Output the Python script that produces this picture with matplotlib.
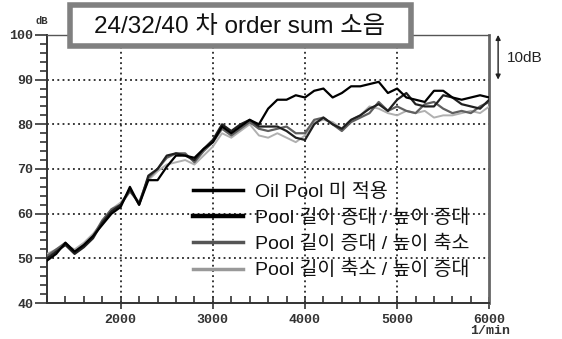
import numpy as np
import matplotlib.pyplot as plt
from matplotlib.patches import Rectangle
from matplotlib.lines import Line2D
from matplotlib.ticker import MultipleLocator, FixedLocator

plt.rcParams['font.family'] = ['Liberation Sans', 'Noto Sans CJK KR', 'DejaVu Sans']

# rpm axis, 100 rpm steps
rpm = np.arange(1200, 6001, 100)

# Oil Pool 미 적용
s_none = [49.5, 51.0, 53.5, 51.5, 53.0, 55.0, 57.5, 60.0, 61.5, 66.0,
          62.0, 67.5, 67.5, 70.5, 73.0, 73.0, 72.5, 74.5, 76.0, 79.5,
          78.0, 79.5, 81.0, 80.0, 83.5, 85.5, 85.5, 86.5, 86.0, 87.5,
          88.0, 86.0, 87.0, 88.5, 88.5, 89.0, 89.5, 87.0, 88.0, 86.0,
          85.5, 85.0, 87.5, 87.5, 86.0, 85.5, 86.0, 86.5, 86.0]
# Pool 길이 증대 / 높이 증대
s_up_up = [50.0, 51.5, 53.0, 51.0, 52.5, 54.5, 58.0, 60.5, 62.0, 65.5,
           62.0, 68.5, 70.0, 73.0, 73.5, 73.0, 72.0, 74.5, 76.5, 80.0,
           78.5, 80.0, 81.0, 79.5, 79.5, 79.5, 78.5, 77.0, 76.5, 80.0,
           81.5, 80.0, 79.0, 81.0, 82.0, 83.5, 84.5, 83.0, 85.5, 87.0,
           84.5, 84.0, 84.0, 86.5, 86.0, 84.5, 84.0, 83.5, 85.5]
# Pool 길이 증대 / 높이 축소
s_up_down = [50.5, 52.0, 53.5, 51.5, 53.0, 55.0, 58.5, 61.0, 62.0, 65.0,
             62.5, 68.0, 70.0, 72.5, 73.5, 73.5, 71.5, 74.0, 76.0, 79.0,
             77.5, 79.0, 80.5, 79.0, 78.5, 79.0, 79.5, 78.0, 78.0, 81.0,
             81.5, 80.0, 78.5, 80.5, 81.5, 82.5, 85.0, 83.0, 84.0, 83.0,
             82.5, 84.5, 85.0, 83.5, 82.5, 83.0, 82.5, 84.0, 85.0]
# Pool 길이 축소 / 높이 증대
s_down_up = [51.0, 52.0, 53.0, 52.0, 53.5, 55.5, 58.0, 61.0, 62.5, 65.0,
             62.5, 67.5, 69.5, 71.0, 71.5, 72.0, 71.0, 73.0, 75.0, 78.0,
             77.0, 78.5, 80.0, 77.5, 77.0, 78.0, 77.0, 76.0, 77.5, 80.5,
             81.0, 80.5, 79.0, 81.0, 82.0, 84.0, 83.5, 82.5, 82.0, 83.0,
             82.5, 83.0, 81.5, 82.0, 82.0, 82.5, 83.0, 82.5, 84.0]

labels = ['Oil Pool 미 적용', 'Pool 길이 증대 / 높이 증대',
          'Pool 길이 증대 / 높이 축소', 'Pool 길이 축소 / 높이 증대']

fig = plt.figure(figsize=(5.62, 3.39), dpi=100)
ax = fig.add_axes([0.0836, 0.106, 0.787, 0.791])

ax.plot(rpm, s_down_up, color='#b0b0b0', lw=1.4, zorder=3)
ax.plot(rpm, s_up_down, color='#606060', lw=1.6, zorder=4)
ax.plot(rpm, s_up_up, color='#202020', lw=1.6, zorder=5)
ax.plot(rpm, s_none, color='black', lw=1.6, zorder=6)

ax.set_xlim(1200, 6000)
ax.set_ylim(40, 100)

# grid
for x in [2000, 3000, 4000, 5000]:
    ax.axvline(x, color='black', lw=1.1, ls=(0, (1.2, 2.2)), zorder=1)
for y in [50, 60, 70, 80, 90]:
    ax.axhline(y, color='black', lw=1.1, ls=(0, (1.2, 2.2)), zorder=1)

ax.xaxis.set_major_locator(FixedLocator([2000, 3000, 4000, 5000, 6000]))
ax.xaxis.set_minor_locator(MultipleLocator(200))
ax.yaxis.set_major_locator(MultipleLocator(10))
ax.yaxis.set_minor_locator(MultipleLocator(2))
ax.tick_params(axis='x', which='major', direction='inout', length=8, width=1.2,
               labelsize=9.5, pad=4, color='#333333')
ax.tick_params(axis='x', which='minor', direction='in', length=5, width=1.2, color='#333333')
ax.tick_params(axis='y', which='major', direction='out', length=9, width=1.2,
               labelsize=9.5, pad=1, color='#333333')
ax.tick_params(axis='y', which='minor', direction='out', length=5, width=1.2, color='#333333')
for lab in ax.get_xticklabels() + ax.get_yticklabels():
    lab.set_family('Liberation Mono')
    lab.set_weight('bold')
    lab.set_color('#333333')

for side in ['left', 'bottom']:
    ax.spines[side].set_color('#333333')
    ax.spines[side].set_linewidth(1.4)
ax.spines['top'].set_color('#555555')
ax.spines['top'].set_linewidth(1.0)
ax.spines['right'].set_color('#666666')
ax.spines['right'].set_linewidth(2.0)

# legend
handles = [Line2D([], [], color='black', lw=2.5),
           Line2D([], [], color='black', lw=3.2),
           Line2D([], [], color='#555555', lw=2.5),
           Line2D([], [], color='#999999', lw=2.5)]
leg = ax.legend(handles, labels, frameon=False, loc='upper left',
                bbox_to_anchor=(0.330, 0.448), fontsize=14, handlelength=2.55,
                handletextpad=0.62, labelspacing=0.41, borderaxespad=0, borderpad=0)
leg.set_zorder(7)
for t in leg.get_texts():
    t.set_color('#111111')

# title box
fig.patches.append(Rectangle((70 / 562, 1 - 46 / 339), 341 / 562, 41 / 339,
                             transform=fig.transFigure, facecolor='white',
                             edgecolor='#808080', lw=4, zorder=10))
fig.text(240 / 562, 1 - 27 / 339, '24/32/40 차 order sum 소음', ha='center',
         va='center', fontsize=17.5, color='#111111', zorder=11)

# units
fig.text(42 / 562, 1 - 21 / 339, 'dB', family='Liberation Mono', weight='bold',
         fontsize=7.5, color='#333333', ha='center', va='center')
fig.text(490 / 562, 1 - 331 / 339, '1/min', family='Liberation Mono', weight='bold',
         fontsize=9.5, color='#333333', ha='center', va='center')

# 10dB scale arrow
ax.annotate('', xy=(1.02, 100), xytext=(1.02, 90),
            xycoords=('axes fraction', 'data'),
            arrowprops=dict(arrowstyle='<|-|>', color='#222222', lw=1.0,
                            mutation_scale=7, shrinkA=0, shrinkB=0),
            annotation_clip=False)
fig.text(507 / 562, 1 - 58 / 339, '10dB', fontsize=11, color='#222222',
         ha='left', va='center')

fig.savefig('out.png', dpi=100)
